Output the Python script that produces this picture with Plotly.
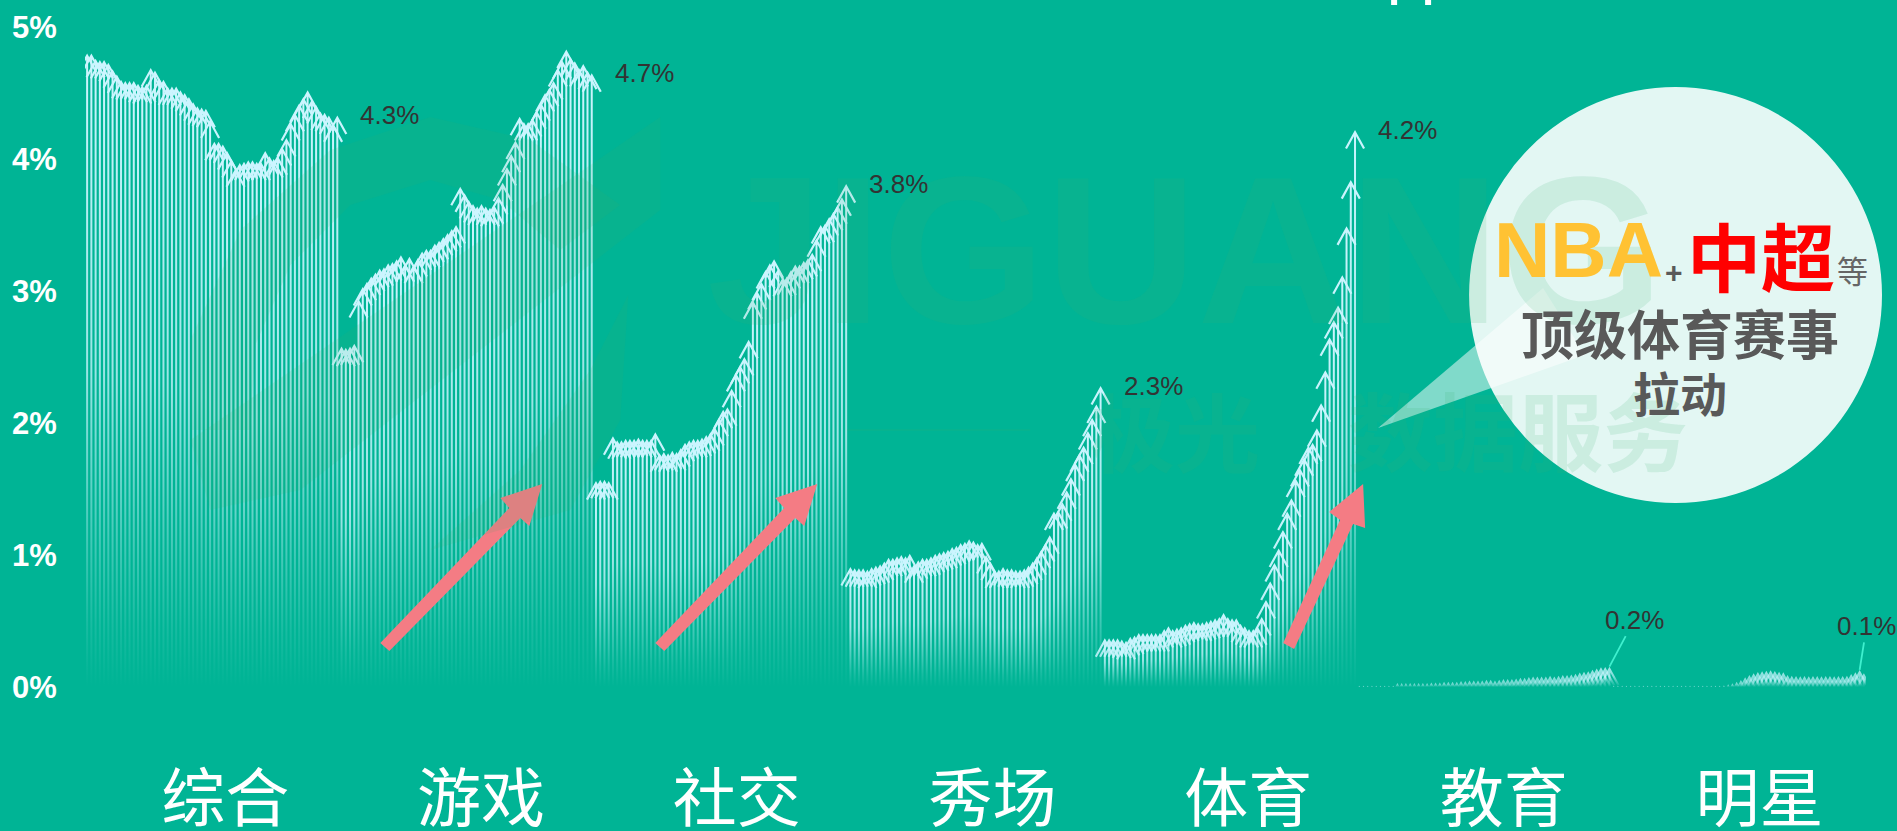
import plotly.graph_objects as go

categories = ["综合", "游戏", "社交", "秀场", "体育", "教育", "明星"]
y_ticks = [0, 1, 2, 3, 4, 5]
end_labels = ["4.3%", "4.7%", "3.8%", "2.3%", "4.2%", "0.2%", "0.1%"]

zonghe = [4.80,4.80,4.76,4.75,4.75,4.73,4.68,4.64,4.60,4.59,4.59,4.59,4.57,4.56,4.57,4.69,4.67,4.61,4.60,4.55,
          4.55,4.55,4.52,4.50,4.47,4.43,4.40,4.39,4.38,4.30,4.13,4.13,4.11,4.06,4.00,3.93,3.97,3.98,3.99,3.99,
          3.98,3.98,4.06,4.02,4.00,4.02,4.09,4.16,4.28,4.35,4.42,4.47,4.52,4.45,4.41,4.36,4.35,4.33,4.27,4.33]
youxi = [2.58,2.57,2.58,2.60,2.94,3.03,3.07,3.11,3.14,3.17,3.18,3.21,3.22,3.24,3.27,3.21,3.26,3.20,3.25,3.30,
         3.32,3.32,3.36,3.38,3.41,3.44,3.47,3.50,3.79,3.74,3.69,3.66,3.64,3.66,3.64,3.63,3.65,3.72,3.82,3.94,
         4.04,4.14,4.32,4.28,4.28,4.31,4.37,4.43,4.50,4.54,4.59,4.69,4.75,4.83,4.77,4.74,4.69,4.72,4.67,4.65]
shejiao = [1.56,1.57,1.57,1.56,1.90,1.87,1.87,1.88,1.88,1.88,1.89,1.88,1.88,1.88,1.93,1.77,1.78,1.77,1.79,1.78,
           1.81,1.85,1.87,1.88,1.88,1.89,1.91,1.93,1.97,2.04,2.10,2.12,2.26,2.38,2.44,2.50,2.63,2.93,3.00,3.07,
           3.16,3.21,3.24,3.17,3.10,3.11,3.16,3.20,3.20,3.23,3.25,3.29,3.40,3.50,3.51,3.56,3.60,3.65,3.71,3.81]
xiuchang = [0.91,0.90,0.90,0.90,0.89,0.91,0.92,0.93,0.95,0.98,0.98,0.99,1.00,0.99,1.01,0.93,0.96,0.98,0.98,0.99,
            1.01,1.02,1.03,1.04,1.06,1.07,1.09,1.10,1.12,1.11,1.09,1.10,1.00,0.95,0.89,0.89,0.91,0.90,0.90,0.89,
            0.89,0.90,0.92,0.95,0.99,1.04,1.09,1.15,1.33,1.34,1.40,1.49,1.59,1.70,1.77,1.83,1.94,2.04,2.14,2.28]
tiyu = [0.37,0.37,0.37,0.37,0.36,0.35,0.38,0.39,0.41,0.41,0.41,0.41,0.41,0.41,0.44,0.46,0.44,0.45,0.46,0.48,
        0.49,0.50,0.49,0.49,0.50,0.51,0.52,0.53,0.56,0.53,0.52,0.52,0.48,0.46,0.44,0.44,0.46,0.53,0.66,0.80,
        0.94,1.05,1.19,1.33,1.43,1.58,1.66,1.74,1.83,1.85,1.96,2.15,2.40,2.65,2.78,2.89,3.12,3.49,3.84,4.22]
jiaoyu = [0.01,0.01,0.01,0.01,0.01,0.01,0.01,0.01,0.01,0.03,0.03,0.03,0.03,0.03,0.03,0.03,0.03,0.035,0.035,0.035,
          0.04,0.04,0.04,0.04,0.045,0.045,0.05,0.05,0.05,0.05,0.055,0.055,0.05,0.055,0.06,0.06,0.06,0.065,0.07,0.07,
          0.075,0.08,0.08,0.08,0.08,0.085,0.08,0.085,0.09,0.09,0.095,0.10,0.11,0.115,0.12,0.13,0.14,0.15,0.152,0.154]
mingxing = [0.01,0.01,0.01,0.01,0.01,0.01,0.01,0.01,0.01,0.01,0.01,0.01,0.01,0.01,0.01,0.01,0.01,0.01,0.01,0.01,
            0.01,0.01,0.01,0.01,0.01,0.01,0.012,0.02,0.028,0.04,0.053,0.073,0.091,0.104,0.114,0.119,0.124,0.126,0.121,0.116,
            0.111,0.091,0.085,0.083,0.082,0.083,0.082,0.083,0.083,0.082,0.083,0.083,0.082,0.083,0.084,0.085,0.099,0.111,0.129,0.104]

groups = [zonghe, youxi, shejiao, xiuchang, tiyu, jiaoyu, mingxing]
values = [v for g in groups for v in g]
assert all(len(g) == 60 for g in groups)

W, H = 1897, 831
L, R, T, B = 84.6, 1866.0, 0.0, 687.0   # plot area in px
PX_X = 4.242                            # px per point
PX_Y = 132.0                            # px per percent
BG = "#00B495"
AR = (204, 245, 255)


def fx(px):
    return (px - L) / (R - L)


def fy(py):
    return 1 - (py - T) / (B - T)


def arrow_outline(i, v):
    sx, sy = 1 / PX_X, 1 / PX_Y
    w, wing_w, wing_h = 1.0, 10.0, 18.0
    nx, ny = 1.95, 1.08     # offset of the inner edge of a wing
    inner = 4.4
    join = inner + w * wing_h / wing_w
    pts = [(-w, None), (-w, join), (-wing_w + nx, wing_h + ny), (-wing_w, wing_h), (0, 0),
           (wing_w, wing_h), (wing_w - nx, wing_h + ny), (w, join), (w, None), (-w, None)]
    xs, ys = [], []
    for dx, dy in pts:
        xs.append(i + dx * sx)
        ys.append(0 if dy is None else v - dy * sy)
    return xs, ys


fig = go.Figure()
for i, v in enumerate(values):
    a = 1.0 if v <= 0.012 else min(1.0, 0.62 + v * 1.25)
    xs, ys = arrow_outline(i, v)
    rgba = lambda al: f"rgba({AR[0]},{AR[1]},{AR[2]},{al * a:.3f})"
    fig.add_trace(go.Scatter(
        x=xs, y=ys, mode="lines", line=dict(width=0), fill="toself",
        fillcolor=rgba(0.6),
        fillgradient=dict(type="vertical", start=0, stop=v,
                          colorscale=[[0, rgba(0)], [0.1, rgba(0.12)], [0.5, rgba(0.75)], [1, rgba(1)]]),
        hoverinfo="skip", showlegend=False))


def poly(points):
    return "M " + " L ".join(f"{fx(x):.5f},{fy(y):.5f}" for x, y in points) + " Z"


PINK = "#F47C84"
shapes = []
# callout circle and wedge
shapes.append(dict(type="circle", xref="paper", yref="paper", layer="above",
                   x0=fx(1469), x1=fx(1882), y0=fy(503), y1=fy(87),
                   fillcolor="rgba(255,255,255,0.89)", line=dict(width=0)))
shapes.append(dict(type="path", xref="paper", yref="paper", layer="above",
                   path=poly([(1378, 428), (1543, 288), (1585, 355)]),
                   fillcolor="rgba(255,255,255,0.5)", line=dict(width=0)))
# pink arrows
for off in (0, 275):
    pts = [(380, 643), (509, 508), (500, 498), (542, 484), (529, 526), (520, 518), (389, 651)]
    shapes.append(dict(type="path", xref="paper", yref="paper", layer="above",
                       path=poly([(x + off, y) for x, y in pts]),
                       fillcolor=PINK, line=dict(width=0)))
shapes.append(dict(type="path", xref="paper", yref="paper", layer="above",
                   path=poly([(1283, 643), (1340, 520), (1329, 512), (1363, 484), (1365, 528), (1353, 524), (1294, 649)]),
                   fillcolor=PINK, line=dict(width=0)))
# clipped white pieces on the top edge
for x0, x1 in ((1391, 1397), (1425, 1431)):
    shapes.append(dict(type="rect", xref="paper", yref="paper", layer="above",
                       x0=fx(x0), x1=fx(x1), y0=fy(5), y1=fy(0),
                       fillcolor="white", line=dict(width=0)))
# faint logo of the watermark
WM = "rgba(60,175,110,0.12)"
shapes.append(dict(type="path", xref="paper", yref="paper", layer="above",
                   path=poly([(190, 340), (240, 230), (330, 150), (430, 117), (530, 140), (620, 205),
                               (560, 250), (500, 200), (430, 180), (350, 205), (290, 265), (255, 345), (250, 430), (190, 430)]),
                   fillcolor=WM, line=dict(width=0)))
shapes.append(dict(type="path", xref="paper", yref="paper", layer="above",
                   path=poly([(660, 117), (660, 210), (300, 490), (210, 510), (190, 440)]),
                   fillcolor=WM, line=dict(width=0)))
shapes.append(dict(type="path", xref="paper", yref="paper", layer="above",
                   path=poly([(628, 295), (620, 420), (570, 510), (430, 550), (520, 470), (590, 370)]),
                   fillcolor=WM, line=dict(width=0)))
shapes.append(dict(type="rect", xref="paper", yref="paper", layer="above",
                   x0=fx(847), x1=fx(1030), y0=fy(431), y1=fy(429),
                   fillcolor=WM, line=dict(width=0)))

CJK = "Noto Sans CJK SC"
ANN = []


def text_at(cx, cy, text, size, color, family=CJK):
    ANN.append(dict(xref="paper", yref="paper", x=fx(cx), y=fy(cy), text=text, showarrow=False,
                    xanchor="center", yanchor="middle", font=dict(size=size, color=color, family=family)))


WMT = "rgba(60,175,110,0.14)"
text_at(1185, 250, "<b>JIGUANG</b>", 210, WMT, "Liberation Sans")
text_at(1175, 428, "<b>极光</b>", 85, WMT)
text_at(1518, 427, "<b>数据服务</b>", 85, WMT)
text_at(1578, 250, "<b>NBA</b>", 78, "#FFC233", "Liberation Sans")
text_at(1674, 272, "<b>+</b>", 30, "#5A5A5A", "Liberation Sans")
text_at(1761, 253, "<b>中超</b>", 74, "#FF0000")
text_at(1852, 269, "等", 31, "#666666")
text_at(1680, 332, "<b>顶级体育赛事</b>", 53, "#595959")
text_at(1680, 391, "<b>拉动</b>", 47, "#595959")

# end labels of the series
LABEL_FONT = dict(size=26, color="#333333", family="Liberation Sans")
for k in range(5):
    idx = 60 * k + 59
    ANN.append(dict(x=idx, y=values[idx], xref="x", yref="y", text=end_labels[k], showarrow=False,
                    xanchor="left", yanchor="middle", xshift=21, font=LABEL_FONT))
for k, idx, ax, ay in ((5, 359, 25, -47), (6, 418, 7, -44)):
    ANN.append(dict(x=idx, y=values[idx], xref="x", yref="y", text=end_labels[k], showarrow=True,
                    arrowhead=0, arrowwidth=1.8, arrowcolor="#3FF0CF", standoff=0,
                    ax=ax, ay=ay, font=LABEL_FONT))

fig.update_layout(
    width=W, height=H, autosize=False,
    paper_bgcolor=BG, plot_bgcolor=BG,
    margin=dict(l=L, r=W - R, t=T, b=H - B, pad=0, autoexpand=False),
    showlegend=False, shapes=shapes, annotations=ANN,
    xaxis=dict(automargin=False, range=[-0.5, len(values) - 0.5], showgrid=False, zeroline=False, showline=False,
               tickmode="array", tickvals=[32.6 + 60.3 * i for i in range(7)], ticktext=categories,
               ticks="outside", ticklen=56, tickcolor="rgba(0,0,0,0)",
               tickangle=0, tickfont=dict(size=64, color="white", family=CJK)),
    yaxis=dict(automargin=False, range=[0, (B - T) / PX_Y], showgrid=False, zeroline=False, showline=False,
               tickmode="array", tickvals=y_ticks, ticktext=[f"<b>{t}%</b>" for t in y_ticks],
               ticks="outside", ticklen=21, tickcolor="rgba(0,0,0,0)",
               tickfont=dict(size=31, color="white", family="Liberation Sans")),
)

fig.write_html("out.html", include_plotlyjs=True, config=dict(displayModeBar=False),
               post_script="document.body.style.margin='0';document.body.style.overflow='hidden';")
